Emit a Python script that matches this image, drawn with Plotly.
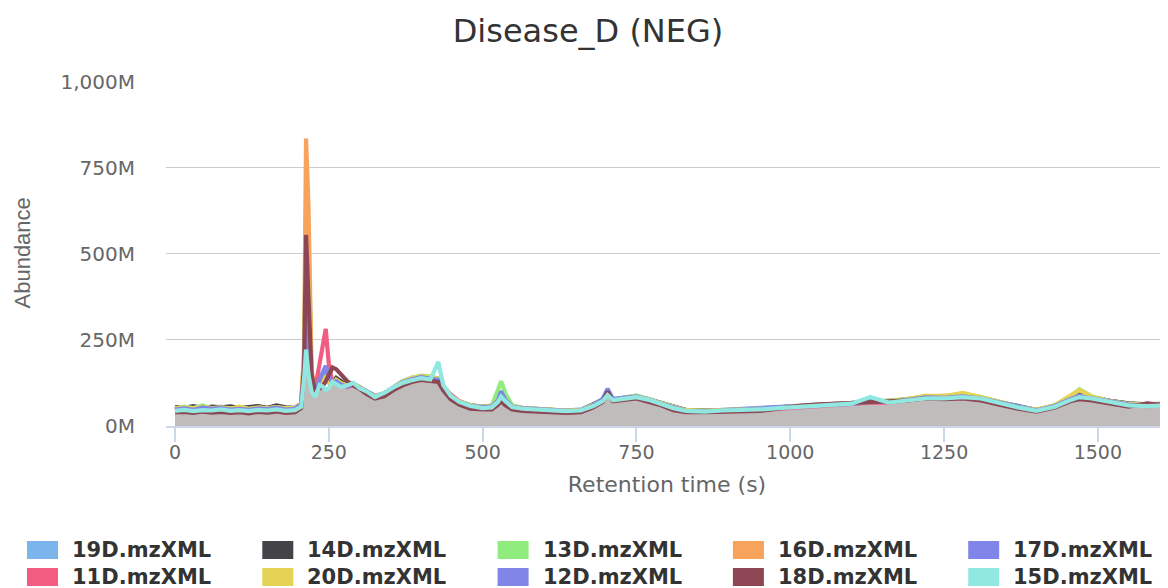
import plotly.graph_objects as go
import numpy as np

# ---------------- data (abundance in millions) ----------------
times = [0, 15, 30, 45, 60, 75, 90, 105, 120, 135, 150, 165, 180, 195,
         205, 210, 213, 217, 222, 228, 235, 240, 245, 250, 256, 262, 270, 280, 290, 300,
         312, 325, 340, 355, 370, 385, 400, 415, 428, 436, 448, 462, 480, 500,
         515, 525, 530, 537, 548, 565, 585, 610, 635, 660, 680, 695, 703, 712, 730, 750, 770, 790, 810, 830,
         860, 890, 920, 950, 980, 1010, 1040, 1070, 1100, 1130, 1160, 1190, 1220, 1250, 1280, 1310, 1340, 1370, 1400, 1430,
         1455, 1470, 1490, 1520, 1550, 1580, 1614]

s19D = [52, 55, 50, 54, 53, 56, 51, 53, 50, 55, 52, 56, 51, 54,
        66, 170, 420, 260, 140, 105, 115, 125, 150, 130, 122, 130, 120, 118, 122, 112,
        98, 88, 95, 114, 130, 140, 145, 142, 138, 112, 88, 72, 60, 57,
        58, 80, 95, 75, 58, 53, 50, 48, 45, 48, 63, 78, 100, 78, 84, 88, 78, 68, 55, 46,
        44, 47, 48, 50, 55, 58, 60, 64, 67, 72, 72, 77, 85, 84, 88, 82, 70, 57, 47, 60,
        82, 92, 82, 72, 64, 62, 64]
s14D = [55, 53, 58, 52, 56, 54, 57, 52, 55, 58, 53, 60, 54, 52,
        64, 175, 450, 280, 135, 102, 112, 122, 145, 128, 125, 140, 130, 118, 123, 112,
        97, 86, 94, 112, 128, 138, 142, 140, 136, 108, 84, 70, 60, 56,
        57, 74, 88, 72, 56, 52, 50, 47, 44, 46, 62, 76, 98, 76, 82, 86, 77, 66, 55, 47,
        45, 47, 47, 48, 54, 57, 60, 63, 66, 71, 73, 76, 84, 83, 90, 82, 69, 56, 46, 59,
        80, 90, 84, 73, 66, 63, 65]
s13D = [50, 56, 52, 60, 51, 53, 50, 52, 49, 53, 51, 54, 50, 52,
        64, 200, 650, 560, 150, 105, 118, 126, 150, 132, 124, 132, 122, 116, 120, 112,
        96, 86, 93, 112, 128, 140, 146, 144, 138, 112, 86, 72, 60, 56,
        60, 105, 130, 95, 60, 52, 50, 48, 44, 46, 61, 76, 96, 76, 82, 88, 77, 66, 54, 46,
        43, 46, 47, 48, 53, 58, 60, 63, 66, 72, 72, 78, 86, 86, 94, 84, 70, 56, 46, 60,
        86, 107, 86, 72, 64, 61, 63]
s16D = [50, 52, 49, 54, 51, 53, 50, 52, 49, 53, 50, 54, 50, 52,
        64, 230, 835, 640, 160, 108, 114, 124, 142, 126, 120, 134, 124, 117, 121, 114,
        97, 86, 93, 112, 127, 138, 142, 140, 136, 110, 86, 71, 59, 56,
        57, 74, 88, 72, 56, 52, 50, 48, 45, 46, 61, 76, 97, 77, 82, 86, 76, 66, 53, 45,
        43, 46, 47, 48, 53, 57, 60, 63, 66, 71, 72, 76, 86, 88, 90, 82, 69, 56, 47, 59,
        80, 88, 82, 71, 63, 61, 63]
s17D = [49, 52, 48, 53, 50, 55, 49, 51, 48, 52, 50, 53, 49, 51,
        63, 165, 400, 270, 135, 105, 125, 150, 165, 140, 125, 132, 122, 116, 120, 110,
        95, 85, 93, 111, 127, 136, 144, 140, 136, 110, 85, 70, 58, 55,
        56, 75, 95, 75, 56, 51, 49, 47, 44, 45, 60, 76, 100, 76, 80, 85, 75, 65, 52, 44,
        43, 46, 47, 52, 54, 58, 60, 63, 66, 72, 71, 78, 84, 83, 87, 81, 68, 55, 46, 58,
        80, 88, 81, 71, 63, 60, 62]
s11D = [46, 48, 45, 50, 47, 49, 46, 48, 45, 49, 47, 50, 46, 48,
        60, 155, 300, 220, 140, 110, 180, 230, 282, 180, 125, 130, 120, 114, 118, 110,
        96, 86, 92, 109, 124, 134, 139, 137, 134, 115, 92, 72, 58, 54,
        55, 70, 82, 68, 54, 49, 47, 45, 42, 44, 58, 73, 92, 73, 78, 83, 73, 63, 50, 43,
        41, 44, 45, 46, 50, 54, 56, 60, 63, 68, 68, 73, 80, 80, 84, 78, 66, 54, 44, 56,
        75, 82, 78, 68, 60, 58, 60]
s20D = [52, 54, 51, 55, 52, 54, 51, 56, 50, 54, 52, 55, 52, 53,
        63, 190, 500, 400, 145, 104, 116, 124, 145, 128, 122, 134, 124, 118, 122, 112,
        96, 86, 94, 112, 128, 140, 145, 142, 137, 110, 86, 71, 59, 56,
        57, 76, 92, 74, 57, 52, 50, 48, 45, 46, 61, 76, 96, 76, 81, 86, 76, 66, 54, 46,
        44, 46, 47, 48, 53, 58, 61, 62, 66, 71, 72, 78, 88, 86, 96, 84, 70, 56, 47, 60,
        88, 105, 85, 72, 64, 62, 64]
s12D = [48, 51, 47, 53, 50, 52, 48, 50, 47, 51, 49, 53, 48, 50,
        62, 160, 380, 250, 135, 104, 130, 155, 175, 145, 124, 130, 120, 115, 120, 110,
        94, 84, 91, 110, 126, 136, 142, 138, 134, 108, 84, 69, 58, 55,
        56, 74, 100, 76, 56, 51, 49, 47, 44, 45, 60, 78, 108, 78, 81, 85, 75, 65, 52, 44,
        42, 45, 46, 48, 52, 56, 58, 62, 65, 70, 70, 75, 83, 82, 86, 80, 68, 55, 45, 58,
        78, 86, 80, 70, 62, 60, 62]
s18D = [40, 41, 38, 42, 39, 41, 38, 40, 37, 41, 39, 42, 38, 40,
        52, 180, 555, 380, 150, 100, 108, 115, 130, 150, 170, 165, 150, 130, 118, 108,
        92, 80, 86, 104, 118, 128, 134, 132, 128, 104, 78, 62, 50, 48,
        48, 62, 72, 60, 48, 44, 42, 40, 38, 40, 54, 70, 100, 72, 76, 80, 70, 60, 46, 40,
        40, 42, 42, 44, 50, 58, 62, 64, 66, 70, 72, 74, 80, 78, 80, 74, 62, 50, 42, 54,
        72, 78, 74, 64, 56, 66, 60]
s15D = [44, 47, 43, 46, 45, 48, 44, 46, 43, 47, 45, 48, 44, 46,
        56, 140, 222, 150, 100, 84, 119, 115, 105, 110, 128, 120, 113, 118, 125, 110,
        100, 84, 96, 112, 125, 133, 139, 135, 186, 119, 88, 70, 58, 52,
        54, 70, 85, 72, 55, 50, 48, 46, 43, 45, 58, 72, 90, 75, 80, 84, 76, 64, 52, 44,
        42, 45, 46, 48, 52, 56, 58, 62, 65, 84, 68, 74, 80, 80, 84, 80, 66, 54, 44, 56,
        75, 84, 80, 70, 60, 58, 60]

series_names = ["19D.mzXML", "14D.mzXML", "13D.mzXML", "16D.mzXML", "17D.mzXML",
                "11D.mzXML", "20D.mzXML", "12D.mzXML", "18D.mzXML", "15D.mzXML"]
series_values = [s19D, s14D, s13D, s16D, s17D, s11D, s20D, s12D, s18D, s15D]
series_colors = ["#7cb5ec", "#434348", "#90ed7d", "#f7a35c", "#8085e9",
                 "#f15c80", "#e4d354", "#8085e8", "#8d4653", "#91e8e1"]

y_tick_vals = [0, 250, 500, 750, 1000]
y_tick_text = ["0M", "250M", "500M", "750M", "1,000M"]
x_tick_vals = [0, 250, 500, 750, 1000, 1250, 1500]

# ---------------- layout geometry ----------------
# The page body adds an 8px margin, so the figure is sized to the visible window
# and every page-pixel target is converted into figure pixels.
OFF = 8
W, H = 1168 - OFF, 588 - OFF
PL, PR, PT, PB = 166 - OFF, 1168 - OFF, 81 - OFF, 426 - OFF


def px_x(page_px):
    return (page_px - OFF - PL) / (PR - PL)


def px_y(page_py):
    return (PB - (page_py - OFF)) / (PB - PT)


fig = go.Figure()

# grey envelope under all chromatograms
floor = np.min(np.array(series_values, dtype=float), axis=0)
fig.add_trace(go.Scatter(x=times, y=floor, mode="lines", line=dict(width=0, color="#c1bcbc"),
                         fill="tozeroy", fillcolor="#c1bcbc", showlegend=False, hoverinfo="skip"))

for name, vals, col in zip(series_names, series_values, series_colors):
    fig.add_trace(go.Scatter(x=times, y=vals, mode="lines", name=name,
                             line=dict(color=col, width=4.2), showlegend=False))

# manual legend (rectangular swatches, 5 columns x 2 rows)
shapes = []
annotations = []
for i, (name, col) in enumerate(zip(series_names, series_colors)):
    row, c = divmod(i, 5)
    x0 = 27 + c * 235.3
    yc = 550 + row * 27
    shapes.append(dict(type="rect", xref="paper", yref="paper",
                       x0=px_x(x0), x1=px_x(x0 + 31), y0=px_y(yc + 9), y1=px_y(yc - 9),
                       fillcolor=col, line=dict(width=0)))
    annotations.append(dict(xref="paper", yref="paper", x=px_x(x0 + 43), y=px_y(yc),
                            xanchor="left", yanchor="middle", showarrow=False,
                            text="<b>%s</b>" % name,
                            font=dict(family="DejaVu Sans", size=21, color="#333333")))

# y-axis title
annotations.append(dict(xref="paper", yref="paper", x=px_x(22), y=0.5, xanchor="center",
                        yanchor="middle", showarrow=False, textangle=-90, text="Abundance",
                        font=dict(family="Liberation Sans", size=22, color="#666666")))

fig.update_layout(
    width=W, height=H, autosize=False,
    margin=dict(l=PL, r=W - PR, t=PT, b=H - PB, pad=0),
    paper_bgcolor="white", plot_bgcolor="white",
    title=dict(text="Disease_D (NEG)", x=0.5, xref="container", xanchor="center",
               y=1 - (31 - OFF) / H, yref="container", yanchor="middle",
               font=dict(family="DejaVu Sans", size=32, color="#333333")),
    showlegend=False,
    shapes=shapes,
    annotations=annotations,
    xaxis=dict(range=[-14.6, 1614], tickvals=x_tick_vals, showgrid=False, zeroline=False,
               automargin=False,
               showline=True, linecolor="#ccd6eb", linewidth=1.5,
               ticks="outside", ticklen=14, tickcolor="#ccd6eb", tickwidth=1.5,
               ticklabelstandoff=-6,
               tickfont=dict(family="DejaVu Sans", size=19, color="#666666"),
               title=dict(text="Retention time (s)", standoff=15,
                          font=dict(family="DejaVu Sans", size=22, color="#666666"))),
    yaxis=dict(range=[0, 1002], tickvals=y_tick_vals, ticktext=y_tick_text,
               automargin=False,
               showgrid=True, gridcolor="#cccccc", gridwidth=1.3, zeroline=False,
               showline=False, ticks="", ticklabelstandoff=30,
               tickfont=dict(family="DejaVu Sans", size=20, color="#666666")),
)

fig.write_html("out.html")
